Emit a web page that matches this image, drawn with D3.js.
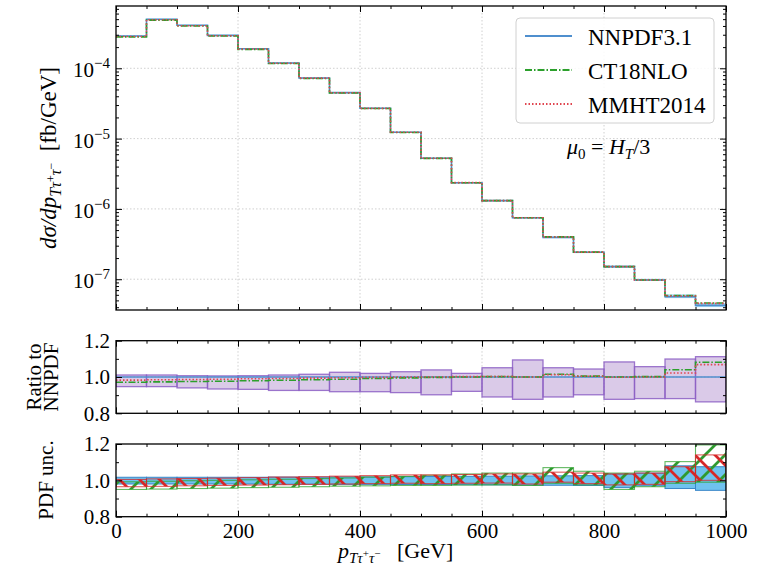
<!DOCTYPE html>
<html>
<head>
<meta charset="utf-8">
<script src="https://cdn.jsdelivr.net/npm/d3@7"></script>
<style>
  body { margin: 0; background: #fff; }
  text { font-family: "Liberation Serif", serif; fill: #000; }
</style>
</head>
<body>
<svg width="772" height="573"></svg>
<script>
const svg = d3.select("svg");

// pT bin edges [GeV]
const binEdges = [0, 50, 100, 150, 200, 250, 300, 350, 400, 450, 500, 550, 600, 650, 700, 750, 800, 850, 900, 950, 1000];

// NNPDF3.1 central, dsigma/dpT [fb/GeV]
const nnpdf = [2.88e-4, 4.98e-4, 4.09e-4, 2.94e-4, 1.90e-4, 1.19e-4, 7.28e-5, 4.50e-5, 2.70e-5, 1.23e-5,
               5.25e-6, 2.36e-6, 1.31e-6, 7.5e-7, 3.94e-7, 2.42e-7, 1.51e-7, 9.75e-8, 5.64e-8, 4.25e-8];

// ratios to NNPDF
const ratioCT18 = [0.971, 0.973, 0.975, 0.977, 0.979, 0.982, 0.985, 0.988, 0.992, 0.995,
                   0.998, 1.000, 1.002, 1.000, 1.015, 1.005, 1.000, 1.002, 1.040, 1.081];
const ratioMMHT = [0.983, 0.985, 0.986, 0.988, 0.990, 0.992, 0.994, 0.996, 0.998, 1.000,
                   1.000, 1.002, 1.003, 1.000, 1.012, 1.004, 0.999, 1.000, 1.022, 1.068];

// scale band (ratio panel)
const scaleHi = [1.011, 1.011, 1.007, 1.006, 1.007, 1.011, 1.015, 1.026, 1.020, 1.029,
                 1.039, 1.020, 1.051, 1.094, 1.051, 1.044, 1.083, 1.057, 1.099, 1.112];
const scaleLo = [0.947, 0.947, 0.940, 0.934, 0.932, 0.926, 0.926, 0.919, 0.919, 0.914,
                 0.902, 0.921, 0.890, 0.877, 0.890, 0.902, 0.877, 0.881, 0.881, 0.863];

// PDF uncertainty bands (normalised to NNPDF central)
const pdfNNLo = [0.980, 0.980, 0.980, 0.980, 0.980, 0.979, 0.979, 0.978, 0.978, 0.977,
                 0.977, 0.976, 0.975, 0.974, 0.973, 0.972, 0.960, 0.970, 0.955, 0.945];
const pdfNNHi = [1.017, 1.017, 1.017, 1.017, 1.017, 1.018, 1.018, 1.019, 1.019, 1.020,
                 1.021, 1.022, 1.023, 1.024, 1.025, 1.026, 1.035, 1.040, 1.080, 1.075];
const pdfCTLo = [0.950, 0.952, 0.955, 0.957, 0.960, 0.962, 0.965, 0.968, 0.970, 0.972,
                 0.972, 0.974, 0.975, 0.972, 0.984, 0.975, 0.950, 0.965, 0.984, 0.990];
const pdfCTHi = [0.992, 0.995, 0.998, 1.000, 1.003, 1.006, 1.010, 1.013, 1.018, 1.022,
                 1.028, 1.035, 1.040, 1.040, 1.070, 1.050, 1.040, 1.050, 1.103, 1.195];
const pdfMMLo = [0.965, 0.967, 0.970, 0.972, 0.974, 0.976, 0.978, 0.980, 0.982, 0.984,
                 0.982, 0.984, 0.985, 0.980, 0.990, 0.982, 0.975, 0.978, 0.993, 1.000];
const pdfMMHi = [1.005, 1.008, 1.010, 1.012, 1.015, 1.018, 1.020, 1.023, 1.026, 1.030,
                 1.030, 1.032, 1.035, 1.035, 1.045, 1.040, 1.035, 1.040, 1.075, 1.140];

const xTicks = [0, 200, 400, 600, 800, 1000];
const logTicks = [1e-7, 1e-6, 1e-5, 1e-4];
const ratioTicks = [0.8, 1.0, 1.2];
const ratioMinor = [0.9, 1.1];
const legendNames = ["NNPDF3.1", "CT18NLO", "MMHT2014"];

const colNN = "#4f8fce", colCT = "#2ca02c", colMM = "#e0454f";

const left = 116, right = 726;
const top1 = 6, bot1 = 310, top2 = 340.7, bot2 = 413.3, top3 = 444, bot3 = 516.7;

const x = d3.scaleLinear().domain([0, 1000]).range([left, right]);
const yTop = d3.scaleLog().domain([3.65e-8, 7.69e-4]).range([bot1, top1]);
const yMid = d3.scaleLinear().domain([0.8, 1.2]).range([bot2, top2]);
const yBot = d3.scaleLinear().domain([0.8, 1.2]).range([bot3, top3]);

const minorX = d3.range(0, 1001, 50).filter(v => v % 200 !== 0);
const minorLog = [];
for (let k = -8; k <= -4; k++) for (let m = 2; m <= 9; m++) {
  const v = m * Math.pow(10, k);
  if (v > 3.65e-8 && v < 7.69e-4) minorLog.push(v);
}

const bins = nnpdf.map((v, i) => ({
  x0: binEdges[i], x1: binEdges[i + 1], nn: v,
  sLo: scaleLo[i], sHi: scaleHi[i],
  nLo: pdfNNLo[i], nHi: pdfNNHi[i],
  cLo: pdfCTLo[i], cHi: pdfCTHi[i],
  mLo: pdfMMLo[i], mHi: pdfMMHi[i]
}));

// hatch patterns
const defs = svg.append("defs");
const hatch = (id, color, d) => defs.append("pattern")
    .attr("id", id).attr("patternUnits", "userSpaceOnUse")
    .attr("width", 20).attr("height", 20)
  .append("path").attr("d", d)
    .attr("stroke", color).attr("stroke-width", 2.8).attr("fill", "none");
hatch("hatchCT", "#2f9a2f", "M-5,5 L5,-5 M0,20 L20,0 M15,25 L25,15");
hatch("hatchMM", "#d62728", "M-5,15 L5,25 M0,0 L20,20 M15,-5 L25,5");

[["c1", top1, bot1], ["c2", top2, bot2], ["c3", top3, bot3]].forEach(([id, a, b]) => {
  defs.append("clipPath").attr("id", id)
    .append("rect").attr("x", left).attr("y", a).attr("width", right - left).attr("height", b - a);
});

const stepPath = (vals, y) => d3.line()
  .curve(d3.curveStepAfter)
  .x(d => x(d[0])).y(d => y(d[1]))
  ([...vals.map((v, i) => [binEdges[i], v]), [binEdges[vals.length], vals[vals.length - 1]]]);

const grid = (g, yScale, yMajor, a, b) => {
  g.append("g").selectAll("line").data(xTicks.slice(1, -1)).join("line")
    .attr("x1", d => x(d)).attr("x2", d => x(d)).attr("y1", a).attr("y2", b)
    .attr("stroke", "#c4c4c4").attr("stroke-width", 0.8).attr("stroke-dasharray", "1.5,2");
  g.append("g").selectAll("line").data(yMajor.filter(v => yScale(v) > a + 1 && yScale(v) < b - 1)).join("line")
    .attr("x1", left).attr("x2", right).attr("y1", d => yScale(d)).attr("y2", d => yScale(d))
    .attr("stroke", "#c4c4c4").attr("stroke-width", 0.8).attr("stroke-dasharray", "1.5,2");
};

const axes = (g, yScale, yMajor, yMinor, a, b, showX, yFmt) => {
  const put = (gen, tx, ty) => g.append("g")
    .attr("transform", `translate(${tx},${ty})`)
    .call(gen)
    .attr("font-family", "Liberation Serif").attr("font-size", 21)
    .call(s => s.select(".domain").remove())
    .call(s => s.selectAll(".tick line").attr("stroke-width", 1));
  put(d3.axisBottom(x).tickValues(xTicks).tickSize(-6).tickPadding(6).tickFormat(showX ? d3.format("d") : ""), 0, b);
  put(d3.axisBottom(x).tickValues(minorX).tickSize(-3).tickFormat(""), 0, b);
  put(d3.axisTop(x).tickValues(xTicks).tickSize(-6).tickFormat(""), 0, a);
  put(d3.axisTop(x).tickValues(minorX).tickSize(-3).tickFormat(""), 0, a);
  put(d3.axisLeft(yScale).tickValues(yMajor).tickSize(-6).tickPadding(6).tickFormat(yFmt || ""), left, 0);
  put(d3.axisLeft(yScale).tickValues(yMinor).tickSize(-3).tickFormat(""), left, 0);
  put(d3.axisRight(yScale).tickValues(yMajor).tickSize(-6).tickFormat(""), right, 0);
  put(d3.axisRight(yScale).tickValues(yMinor).tickSize(-3).tickFormat(""), right, 0);
  g.append("rect").attr("x", left).attr("y", a).attr("width", right - left).attr("height", b - a)
    .attr("fill", "none").attr("stroke", "#000").attr("stroke-width", 1.3);
};

// ---------- top panel ----------
const g1 = svg.append("g");
grid(g1, yTop, logTicks, top1, bot1);
const d1 = g1.append("g").attr("clip-path", "url(#c1)");
d1.selectAll("rect.band").data(bins).join("rect")
  .attr("x", d => x(d.x0)).attr("width", d => x(d.x1) - x(d.x0))
  .attr("y", d => yTop(d.nn * d.nHi)).attr("height", d => yTop(d.nn * d.nLo) - yTop(d.nn * d.nHi))
  .attr("fill", "#8fcdef").attr("opacity", 0.8);
d1.append("path").attr("d", stepPath(nnpdf, yTop))
  .attr("fill", "none").attr("stroke", colNN).attr("stroke-width", 1.6);
d1.append("path").attr("d", stepPath(nnpdf.map((v, i) => v * ratioCT18[i]), yTop))
  .attr("fill", "none").attr("stroke", colCT).attr("stroke-width", 1.6).attr("stroke-dasharray", "7,2,1.5,2");
d1.append("path").attr("d", stepPath(nnpdf.map((v, i) => v * ratioMMHT[i]), yTop))
  .attr("fill", "none").attr("stroke", colMM).attr("stroke-width", 1.6).attr("stroke-dasharray", "1.5,2");
axes(g1, yTop, logTicks, minorLog, top1, bot1, false, null);

// log tick labels 10^k
g1.append("g").selectAll("text").data(logTicks).join("text")
  .attr("x", left - 6).attr("y", d => yTop(d) + 9)
  .attr("text-anchor", "end").attr("font-size", 21)
  .each(function (d) {
    const t = d3.select(this);
    t.append("tspan").text("10");
    t.append("tspan").attr("dy", -9).attr("font-size", 15).text("\u2212" + Math.round(-Math.log10(d)));
  });

// legend
const lg = g1.append("g");
lg.append("rect").attr("x", 516).attr("y", 18).attr("width", 198).attr("height", 105).attr("rx", 4)
  .attr("fill", "#fff").attr("fill-opacity", 0.85).attr("stroke", "#d0d0d0").attr("stroke-width", 1);
const legStyles = [
  { c: colNN, dash: null },
  { c: colCT, dash: "7,2,1.5,2" },
  { c: colMM, dash: "1.5,2" }
];
legendNames.forEach((name, i) => {
  const yy = 36 + i * 34;
  lg.append("line").attr("x1", 525).attr("x2", 572).attr("y1", yy).attr("y2", yy)
    .attr("stroke", legStyles[i].c).attr("stroke-width", 1.8).attr("stroke-dasharray", legStyles[i].dash);
  lg.append("text").attr("x", 588).attr("y", yy + 9).attr("font-size", 23).text(name);
});

// scale annotation
const ann = g1.append("text").attr("x", 567).attr("y", 154).attr("font-size", 22);
ann.append("tspan").attr("font-style", "italic").text("\u03bc");
ann.append("tspan").attr("font-size", 15).attr("dy", 5).text("0");
ann.append("tspan").attr("dy", -5).text(" = ");
ann.append("tspan").attr("font-style", "italic").text("H");
ann.append("tspan").attr("font-style", "italic").attr("font-size", 15).attr("dy", 5).text("T");
ann.append("tspan").attr("dy", -5).text("/3");

// y title top
const yt = g1.append("text").attr("transform", "translate(56,158) rotate(-90)")
  .attr("text-anchor", "middle").attr("font-size", 23);
yt.append("tspan").attr("font-style", "italic").text("d\u03c3/dp");
yt.append("tspan").attr("font-style", "italic").attr("font-size", 16).attr("dy", 5).text("T\u03c4");
yt.append("tspan").attr("font-size", 12).attr("dy", -6).text("+");
yt.append("tspan").attr("font-style", "italic").attr("font-size", 16).attr("dy", 6).text("\u03c4");
yt.append("tspan").attr("font-size", 12).attr("dy", -6).text("\u2212");
yt.append("tspan").attr("dy", 1).text("\u00a0\u00a0[fb/GeV]");

// ---------- ratio panel ----------
const g2 = svg.append("g");
grid(g2, yMid, ratioTicks, top2, bot2);
const d2 = g2.append("g").attr("clip-path", "url(#c2)");
d2.selectAll("rect").data(bins).join("rect")
  .attr("x", d => x(d.x0)).attr("width", d => x(d.x1) - x(d.x0))
  .attr("y", d => yMid(d.sHi)).attr("height", d => yMid(d.sLo) - yMid(d.sHi))
  .attr("fill", "#9467bd").attr("fill-opacity", 0.35)
  .attr("stroke", "#8c5fc4").attr("stroke-opacity", 0.85).attr("stroke-width", 1.3);
d2.append("path").attr("d", stepPath(nnpdf.map(() => 1), yMid))
  .attr("fill", "none").attr("stroke", colNN).attr("stroke-width", 1.6);
d2.append("path").attr("d", stepPath(ratioCT18, yMid))
  .attr("fill", "none").attr("stroke", colCT).attr("stroke-width", 1.6).attr("stroke-dasharray", "7,2,1.5,2");
d2.append("path").attr("d", stepPath(ratioMMHT, yMid))
  .attr("fill", "none").attr("stroke", colMM).attr("stroke-width", 1.6).attr("stroke-dasharray", "1.5,2");
axes(g2, yMid, ratioTicks, ratioMinor, top2, bot2, false, d3.format(".1f"));

const rt = g2.append("text").attr("transform", "translate(41,377) rotate(-90)")
  .attr("text-anchor", "middle").attr("font-size", 21);
rt.append("tspan").attr("x", 0).text("Ratio to");
rt.append("tspan").attr("x", 0).attr("dy", 17).text("NNPDF");

// ---------- PDF uncertainty panel ----------
const g3 = svg.append("g");
grid(g3, yBot, ratioTicks, top3, bot3);
const d3g = g3.append("g").attr("clip-path", "url(#c3)");
d3g.selectAll("rect.nn").data(bins).join("rect").attr("class", "nn")
  .attr("x", d => x(d.x0)).attr("width", d => x(d.x1) - x(d.x0))
  .attr("y", d => yBot(d.nHi)).attr("height", d => yBot(d.nLo) - yBot(d.nHi))
  .attr("fill", "#6fc2ef").attr("stroke", "#3a87c8").attr("stroke-width", 1);
d3g.selectAll("rect.ct").data(bins).join("rect").attr("class", "ct")
  .attr("x", d => x(d.x0)).attr("width", d => x(d.x1) - x(d.x0))
  .attr("y", d => yBot(d.cHi)).attr("height", d => yBot(d.cLo) - yBot(d.cHi))
  .attr("fill", "url(#hatchCT)")
  .attr("stroke", colCT).attr("stroke-opacity", 0.75).attr("stroke-width", 1.1);
d3g.selectAll("rect.mm").data(bins).join("rect").attr("class", "mm")
  .attr("x", d => x(d.x0)).attr("width", d => x(d.x1) - x(d.x0))
  .attr("y", d => yBot(d.mHi)).attr("height", d => yBot(d.mLo) - yBot(d.mHi))
  .attr("fill", "url(#hatchMM)")
  .attr("stroke", "#d62728").attr("stroke-opacity", 0.75).attr("stroke-width", 1.1);
axes(g3, yBot, ratioTicks, ratioMinor, top3, bot3, true, d3.format(".1f"));

g3.append("text").attr("transform", "translate(53,480) rotate(-90)")
  .attr("text-anchor", "middle").attr("font-size", 21).text("PDF unc.");

// x title
const xt = svg.append("text").attr("x", 338).attr("y", 558).attr("font-size", 22);
xt.append("tspan").attr("font-style", "italic").text("p");
xt.append("tspan").attr("font-style", "italic").attr("font-size", 15).attr("dy", 5).text("T\u03c4");
xt.append("tspan").attr("font-size", 11).attr("dy", -6).text("+");
xt.append("tspan").attr("font-style", "italic").attr("font-size", 15).attr("dy", 6).text("\u03c4");
xt.append("tspan").attr("font-size", 11).attr("dy", -6).text("\u2212");
xt.append("tspan").attr("dy", 1).text("\u00a0\u00a0\u00a0[GeV]");
</script>
</body>
</html>
